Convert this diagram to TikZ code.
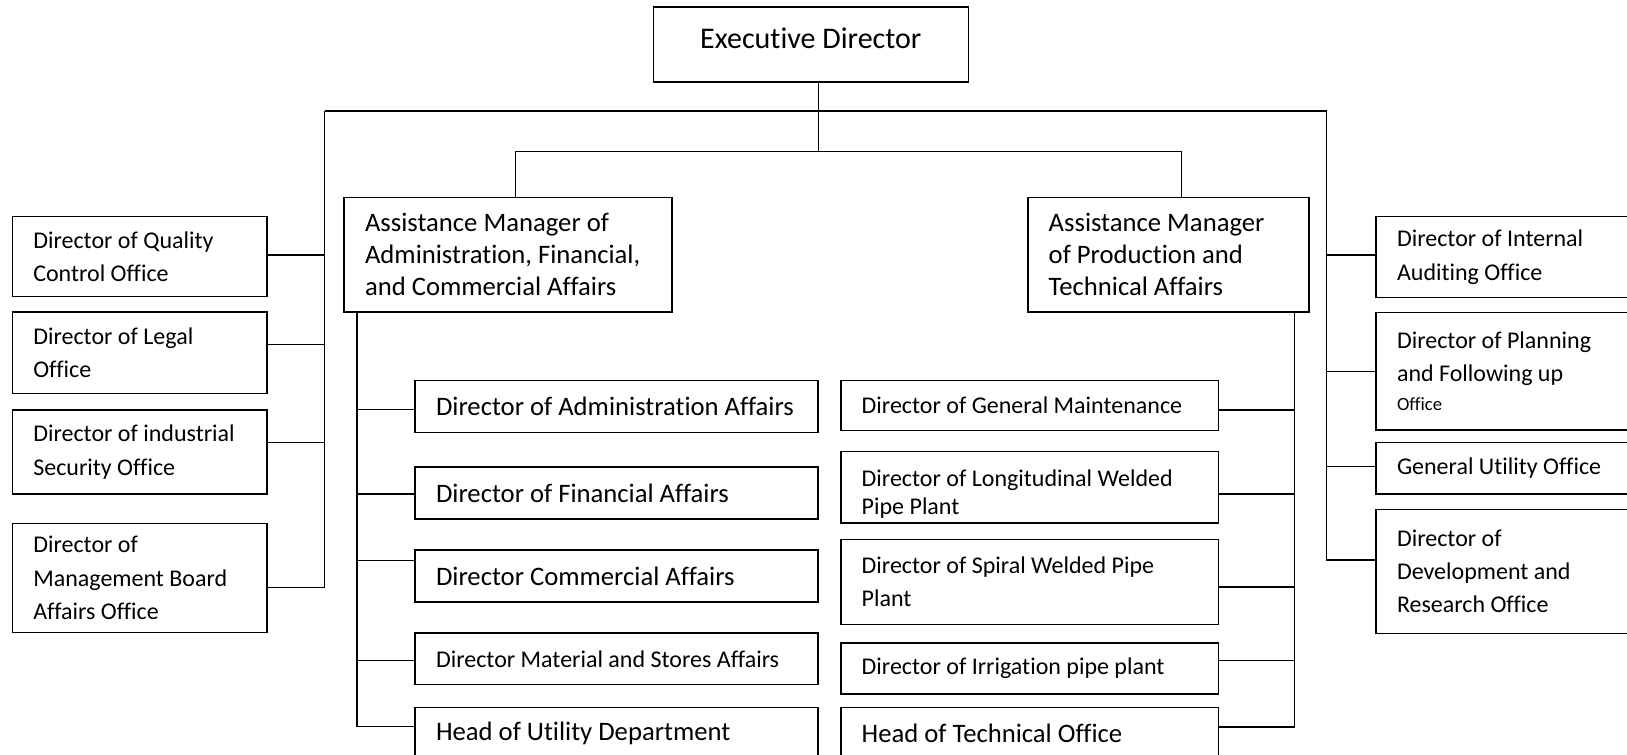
\documentclass[tikz,border=0pt]{standalone}
\usepackage{fontspec}
\setmainfont{Carlito}[Ligatures={NoCommon}]
\usepackage{tikz}

\tikzset{
  office/.style={draw, line width=1.2pt, rectangle, inner xsep=15.75pt, inner ysep=0pt, align=flush left, font=\fontsize{18}{25}\selectfont},
  manager/.style={office, font=\fontsize{20}{24}\selectfont},
  link/.style={line width=0.9pt}
}

\begin{document}
\begin{tikzpicture}[x=0.75pt, y=-0.75pt]
\useasboundingbox (0,0) rectangle (1627,755);

\node[draw, line width=1.2pt, minimum width=236.25pt, minimum height=56.25pt, text depth=9.5pt, font=\fontsize{22.5}{27}\selectfont] (exec) at (810.8,44.8) {Executive Director};

\node[manager, text width=214.3pt, minimum height=85.8pt] (amL) at (507.9,254.8) {Assistance Manager of\\ Administration, Financial,\\ and Commercial Affairs};
\node[manager, text width=179.25pt, minimum height=85.8pt] (amR) at (1168.2,254.8) {Assistance Manager\\ of Production and\\ Technical Affairs};

% left offices
\node[office, text width=159.3pt, minimum height=60pt] (L1) at (139.5,256.7) {Director of Quality\\ Control Office};
\node[office, text width=159.3pt, minimum height=60.75pt] (L2) at (139.5,352.8) {Director of Legal\\ Office};
\node[office, text width=159.3pt, minimum height=63pt] (L3) at (139.5,452) {Director of industrial\\ Security Office};
\node[office, text width=159.3pt, minimum height=82pt] (L4) at (139.5,578) {Director of\\ Management Board\\ Affairs Office};

% right offices
\node[office, text width=166.5pt, minimum height=60.75pt] (R1) at (1508,257.2) {Director of Internal\\ Auditing Office};
\node[office, text width=166.5pt, minimum height=88pt] (R2) at (1508,371.3) {Director of Planning\\ and Following up\\[-3pt] {\fontsize{14}{16}\selectfont Office}};
\node[office, text width=166.5pt, minimum height=38.5pt] (R3) at (1508,468.3) {General Utility Office};
\node[office, text width=166.5pt, minimum height=93pt] (R4) at (1508,571.3) {Director of\\ Development and\\ Research Office};

% under administration
\node[manager, text width=270.75pt, minimum height=38.8pt] (S1) at (616.5,406.5) {\mbox{Director of Administration Affairs}};
\node[manager, text width=270.75pt, minimum height=38.8pt] (S2) at (616.5,493) {Director of Financial Affairs};
\node[manager, text width=270.75pt, minimum height=38.8pt] (S3) at (616.5,575.9) {Director Commercial Affairs};
\node[office, text width=270.75pt, minimum height=38.55pt] (S4) at (616.5,658.9) {Director Material and Stores Affairs};
\node[manager, text width=270.75pt, minimum height=38.8pt] (S5) at (616.5,733.2) {Head of Utility Department};

% under production
\node[office, text width=251.7pt, minimum height=37.4pt] (T1) at (1029.5,405.5) {Director of General Maintenance};
\node[office, text width=251.7pt, minimum height=53.85pt, text height=23pt, font=\fontsize{18}{21.2}\selectfont] (T2) at (1029.5,487.3) {Director of Longitudinal Welded\\ Pipe Plant};
\node[office, text width=251.7pt, minimum height=63.75pt, font=\fontsize{18}{24.75}\selectfont] (T3) at (1029.5,581.9) {Director of Spiral Welded Pipe\\ Plant};
\node[office, text width=251.7pt, minimum height=38.5pt] (T4) at (1029.5,668.5) {Director of Irrigation pipe plant};
\node[manager, text width=251.7pt, minimum height=38.8pt] (T5) at (1029.5,733.2) {Head of Technical Office};

\coordinate (split) at (818.3,151.7);
\coordinate (lbus) at (324.8,111);
\coordinate (rbus) at (1326.7,111);
\coordinate (lsub) at ([xshift=10.3pt]amL.south west);
\coordinate (rsub) at ([xshift=-11.55pt]amR.south east);

\draw[link] (split |- exec.south) -- (split);
\draw[link] (lbus) -- (rbus);
\draw[link] ([xshift=5.85pt]amL.north) |- (split) -| ([xshift=9.9pt]amR.north);

\foreach \n/\s in {L1/1.3, L2/6.4, L3/7.3, L4/-7}
  \draw[link] ([yshift=\s pt]\n.east) -| (lbus);
\foreach \n/\s in {R1/1.6, R2/0, R3/1.2, R4/8.5}
  \draw[link] ([yshift=\s pt]\n.west) -| (rbus);
\foreach \n/\s in {S1/-2.3, S2/-0.7, S3/11.5, S4/-1.1, S5/5.1}
  \draw[link] ([yshift=\s pt]\n.west) -| (lsub);
\foreach \n/\s in {T1/-3.3, T2/-5, T3/-3.8, T4/6, T5/4.6}
  \draw[link] ([yshift=\s pt]\n.east) -| (rsub);
\end{tikzpicture}
\end{document}
